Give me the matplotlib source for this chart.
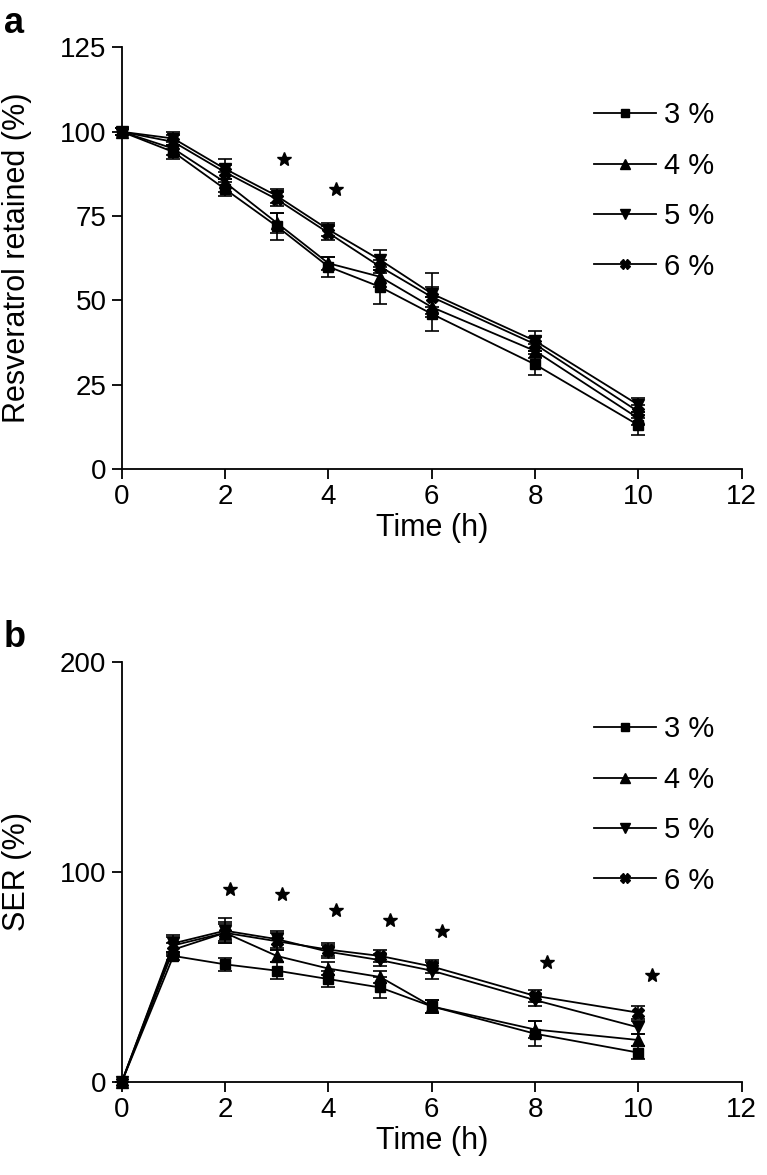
import numpy as np
import matplotlib
matplotlib.use('Agg')
from matplotlib import pyplot as plt

plt.rcParams['font.family'] = ['Liberation Sans', 'DejaVu Sans']

#################### DATA ####################################################################
times = [0, 1, 2, 3, 4, 5, 6, 8, 10]
labels = ['3 %', '4 %', '5 %', '6 %']
markers = ['s', '^', 'v', 'X']

# panel a - resveratrol retained (%)
ret_3 = [100, 94, 83, 72, 60, 54, 46, 31, 13]
ret_4 = [100, 95, 85, 73, 61, 57, 48, 35, 15]
ret_5 = [100, 98, 89, 81, 71, 62, 52, 38, 19]
ret_6 = [100, 97, 88, 80, 70, 60, 51, 37, 17]
ret_err_3 = [1, 2, 2, 4, 3, 5, 5, 3, 3]
ret_err_4 = [1, 2, 3, 3, 2, 3, 3, 2, 2]
ret_err_5 = [1, 2, 3, 2, 2, 3, 6, 3, 2]
ret_err_6 = [1, 2, 2, 2, 2, 2, 3, 2, 2]
star_a_t = [3.15, 4.15]
star_a_y = [92, 83]

# panel b - SER (%)
ser_3 = [0, 60, 56, 53, 49, 45, 36, 23, 14]
ser_4 = [0, 63, 71, 60, 54, 50, 36, 25, 20]
ser_5 = [0, 66, 72, 68, 62, 58, 53, 39, 26]
ser_6 = [0, 65, 71, 67, 63, 60, 55, 41, 33]
ser_err_3 = [0, 2, 3, 4, 4, 5, 3, 6, 3]
ser_err_4 = [0, 3, 4, 3, 3, 3, 3, 4, 3]
ser_err_5 = [0, 4, 6, 4, 3, 3, 4, 3, 3]
ser_err_6 = [0, 4, 5, 4, 3, 3, 3, 3, 3]
star_b_t = [2.1, 3.1, 4.14, 5.2, 6.19, 8.24, 10.26]
star_b_y = [92, 89.5, 82, 77, 72, 57, 51]

###############################################################################################

def draw_panel(ax, series, errors, star_t, star_y, ymax, ystep, ylabel):
    for vals, errs, lab, mk in zip(series, errors, labels, markers):
        ms = 7.5 if mk == 's' else 8.5
        ax.errorbar(times, vals, yerr=errs, fmt='none', ecolor='k', elinewidth=1.2,
                    capsize=5, capthick=1.2, clip_on=False)
        ax.plot(times, vals, color='k', lw=1.3, marker=mk, ms=ms, mfc='k', mec='k',
                label=lab, clip_on=False)
    ax.plot(star_t, star_y, '*', color='k', ms=10, ls='none', clip_on=False)

    ax.set_xlim(0, 12)
    ax.set_ylim(0, ymax)
    ax.set_xticks(np.arange(0, 13, 2))
    ax.set_yticks(np.arange(0, ymax + 1, ystep))
    for s in ['top', 'right']:
        ax.spines[s].set_visible(False)
    for s in ['left', 'bottom']:
        ax.spines[s].set_linewidth(1.3)
    ax.tick_params(direction='out', length=7, width=1.3, labelsize=20, pad=4)
    ax.set_xlabel('Time (h)', fontsize=22, labelpad=2)
    ax.set_ylabel(ylabel, fontsize=22)
    ax.yaxis.set_label_coords(-0.145, 0.5)
    ax.legend(loc='upper left', bbox_to_anchor=(0.739, 0.907), frameon=False, fontsize=21,
              handlelength=2.1, handletextpad=0.3, labelspacing=0.77, borderpad=0,
              numpoints=1, markerscale=0.8)


fig = plt.figure(figsize=(7.67, 11.75), dpi=100)
ax_a = fig.add_axes([0.1587, 0.6009, 0.8083, 0.3587])
ax_b = fig.add_axes([0.1587, 0.0791, 0.8083, 0.3578])

draw_panel(ax_a, [ret_3, ret_4, ret_5, ret_6], [ret_err_3, ret_err_4, ret_err_5, ret_err_6],
           star_a_t, star_a_y, 125, 25, 'Resveratrol retained (%)')
draw_panel(ax_b, [ser_3, ser_4, ser_5, ser_6], [ser_err_3, ser_err_4, ser_err_5, ser_err_6],
           star_b_t, star_b_y, 200, 100, 'SER (%)')

fig.text(0.005, 0.995, 'a', fontsize=26, fontweight='bold', va='top', ha='left')
fig.text(0.005, 0.472, 'b', fontsize=26, fontweight='bold', va='top', ha='left')

fig.savefig('out.png', dpi=100)
